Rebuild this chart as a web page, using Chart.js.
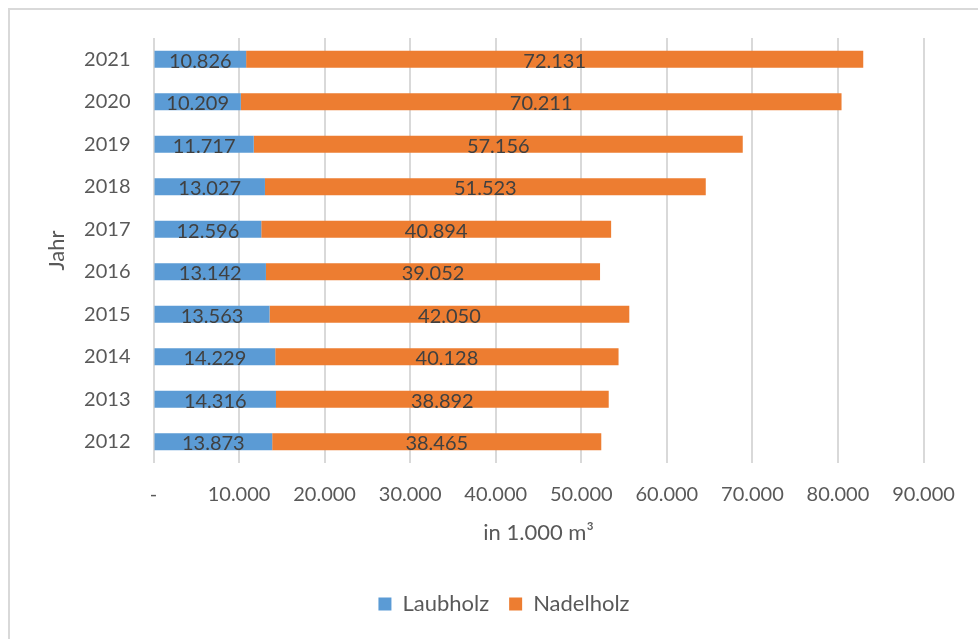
<!DOCTYPE html>
<html>
<head>
<meta charset="utf-8">
<script src="https://cdn.jsdelivr.net/npm/chart.js@4"></script>
<style>
  html, body { margin: 0; padding: 0; background: #fff; }
  #wrap { position: relative; width: 978px; height: 639px; overflow: hidden; }
  #frame { position: absolute; left: 8px; top: 8px; width: 1200px; height: 900px;
           border-left: 2px solid #d9d9d9; border-top: 2px solid #d9d9d9; }
  canvas { position: absolute; left: 0; top: 0; }
</style>
</head>
<body>
<div id="wrap">
  <div id="frame"></div>
  <canvas id="chart" width="978" height="639"></canvas>
</div>
<script>
const years = ['2021', '2020', '2019', '2018', '2017', '2016', '2015', '2014', '2013', '2012'];
const laubholz = [10826, 10209, 11717, 13027, 12596, 13142, 13563, 14229, 14316, 13873];
const nadelholz = [72131, 70211, 57156, 51523, 40894, 39052, 42050, 40128, 38892, 38465];

const fontFamily = 'Lato, "Open Sans", sans-serif';

function fmt(v) {
    if (v === 0) return '-';
    return String(Math.round(v)).replace(/\B(?=(\d{3})+(?!\d))/g, '.');
}

// Werte mittig in die Balken schreiben
const barLabels = {
    id: 'barLabels',
    afterDatasetsDraw(chart) {
        const ctx = chart.ctx;
        ctx.save();
        ctx.font = '20px ' + fontFamily;
        ctx.fillStyle = '#404040';
        ctx.textAlign = 'center';
        ctx.textBaseline = 'middle';
        chart.data.datasets.forEach((ds, i) => {
            chart.getDatasetMeta(i).data.forEach((bar, j) => {
                const p = bar.getProps(['x', 'y', 'base'], true);
                ctx.fillText(fmt(ds.data[j]), (p.x + p.base) / 2, p.y + 2);
            });
        });
        ctx.restore();
    }
};

new Chart(document.getElementById('chart'), {
    type: 'bar',
    data: {
        labels: years,
        datasets: [
            { label: 'Laubholz', data: laubholz, backgroundColor: '#5b9bd5' },
            { label: 'Nadelholz', data: nadelholz, backgroundColor: '#ed7d31' }
        ]
    },
    options: {
        indexAxis: 'y',
        responsive: false,
        animation: false,
        barPercentage: 0.4,
        categoryPercentage: 1,
        layout: { padding: { top: 38, left: 30, right: 0, bottom: 14 } },
        plugins: {
            tooltip: { enabled: false },
            legend: {
                position: 'bottom',
                labels: {
                    boxWidth: 13, boxHeight: 13, padding: 20,
                    color: '#595959',
                    font: { family: fontFamily, size: 22 }
                }
            }
        },
        scales: {
            x: {
                stacked: true,
                min: 0, max: 90000,
                grid: { color: '#d9d9d9', lineWidth: 2, drawTicks: false },
                border: { display: false },
                ticks: {
                    stepSize: 10000, padding: 20, color: '#595959',
                    font: { family: fontFamily, size: 20 },
                    maxRotation: 0,
                    callback: v => fmt(v)
                },
                title: {
                    display: true, text: 'in 1.000 m³', color: '#595959',
                    font: { family: fontFamily, size: 22 },
                    padding: { top: 0, bottom: 27 }
                },
                afterFit(scale) {
                    scale.height = 110;
                    scale.paddingRight = 54.5;
                }
            },
            y: {
                stacked: true,
                grid: { display: false },
                border: { display: false },
                ticks: {
                    padding: 15, color: '#595959',
                    font: { family: fontFamily, size: 20 }
                },
                title: {
                    display: true, text: 'Jahr', color: '#595959',
                    font: { family: fontFamily, size: 22 },
                    padding: { top: 14, bottom: 0 }
                },
                afterFit(scale) {
                    scale.width = 123.5;
                }
            }
        }
    },
    plugins: [barLabels]
});
</script>
</body>
</html>
